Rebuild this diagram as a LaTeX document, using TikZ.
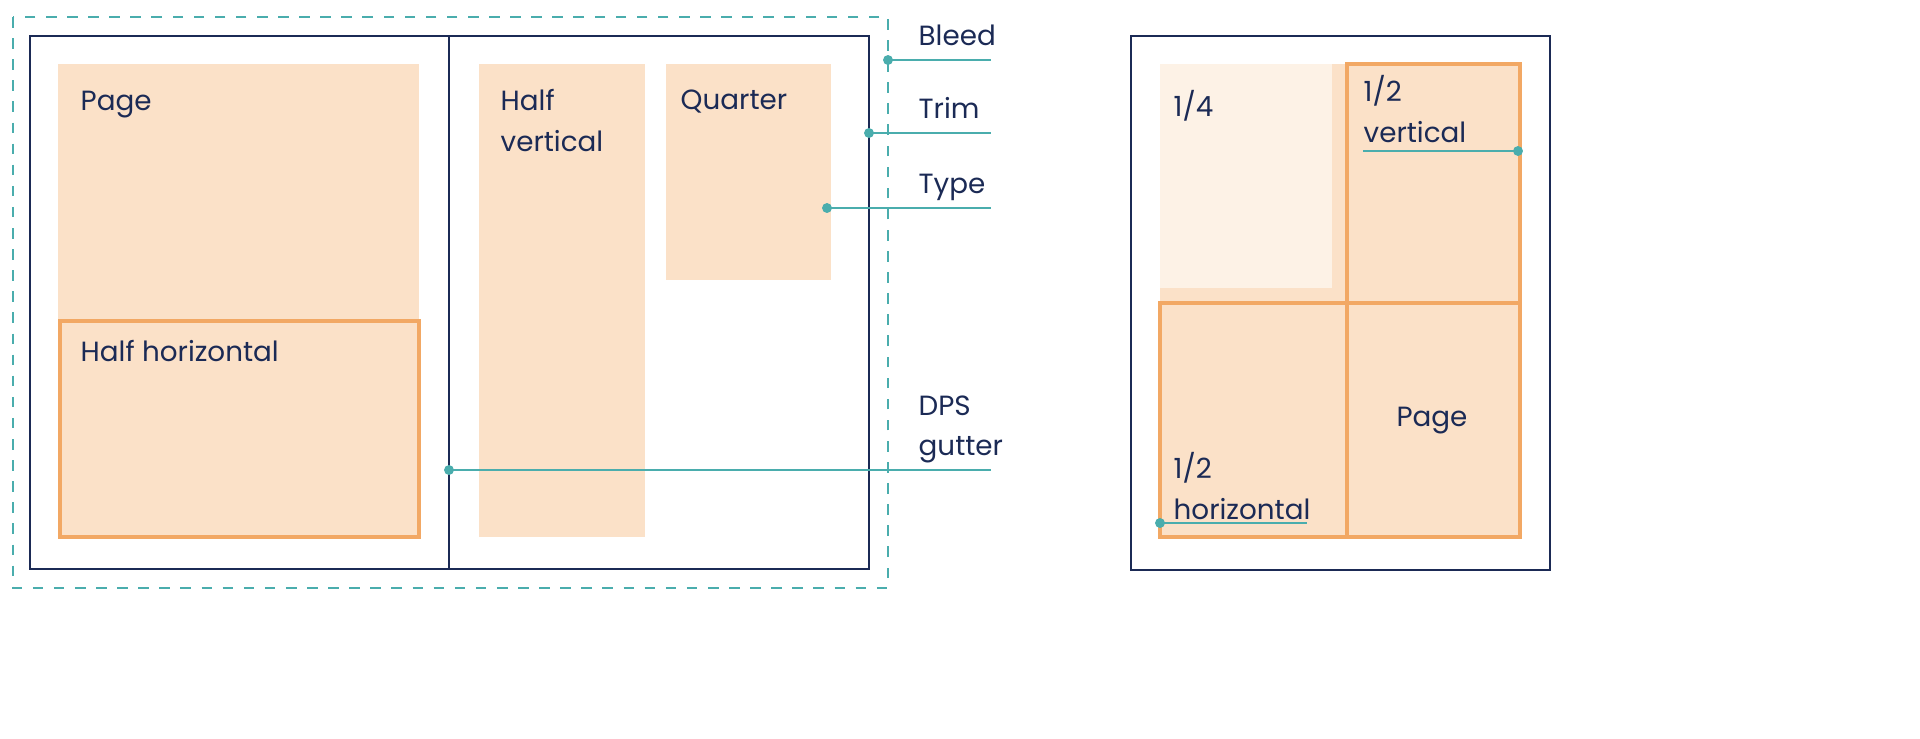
\documentclass[tikz,border=0pt]{standalone}
\usepackage{fontspec}
\setmainfont{Poppins}
\definecolor{peach}{HTML}{FBE1C8}
\definecolor{lightpeach}{HTML}{FDF2E6}
\definecolor{ad}{HTML}{F2A864}
\definecolor{navy}{HTML}{1B2A55}
\definecolor{teal}{HTML}{4AADAD}
\tikzstyle{lbl} = [anchor=north west,inner sep=0pt,text=navy,align=left,
                   font=\fontsize{7.9}{11.5}\selectfont]
\tikzstyle{lead} = [teal,line width=0.6pt]
\tikzstyle{pin} = [fill=teal,circle,inner sep=1pt]
\begin{document}
\begin{tikzpicture}[x={(0.01cm,0)},y={(0,-0.01cm)}]
  % spread
  \fill[peach] (58,64) rectangle (419,537);
  \draw[ad,line width=1pt] (60,321) rectangle (419,537);
  \fill[peach] (479,64) rectangle (645,537);
  \fill[peach] (666,64) rectangle (831,280);
  \draw[navy,line width=0.8pt] (30,36) rectangle (869,569);
  \draw[navy,line width=0.8pt] (449,36) -- (449,569);
  \draw[teal,dashed,line width=0.8pt] (13,17) rectangle (888,588);

  \node[lbl] (page)   at (80,90)  {Page};
  \node[lbl] (hhor)   at (80,340) {Half horizontal};
  \node[lbl] (hvert)  at (500,89) {Half\\vertical};
  \node[lbl] (quart)  at (680,89) {Quarter};

  \node[lbl] (bleed)  at (918,24)  {Bleed};
  \node[lbl] (trim)   at (918,97)  {Trim};
  \node[lbl] (type)   at (918,173) {Type};
  \node[lbl] (dps)    at (918,395) {DPS\\gutter};

  \coordinate (bleedend) at (991,60);
  \coordinate (trimend)  at (991,133);
  \coordinate (typeend)  at (991,208);
  \coordinate (dpsend)   at (991,470);
  \node[pin] (bleeddot) at (888,60) {};
  \node[pin] (trimdot)  at (869,133) {};
  \node[pin] (typedot)  at (827,208) {};
  \node[pin] (dpsdot)   at (449,470) {};
  \draw[lead] (bleeddot.center) -- (bleedend);
  \draw[lead] (trimdot.center) -- (trimend);
  \draw[lead] (typedot.center) -- (typeend);
  \draw[lead] (dpsdot.center) -- (dpsend);

  % single page
  \fill[peach] (1160,64) rectangle (1520,537);
  \fill[lightpeach] (1160,64) rectangle (1332,288);
  \draw[ad,line width=1pt] (1347,64) rectangle (1520,537);
  \draw[ad,line width=1pt] (1160,303) rectangle (1520,537);
  \draw[navy,line width=0.8pt] (1131,36) rectangle (1550,570);

  \node[lbl] (quarter) at (1173,90)  {1/4};
  \node[lbl] (halfv)   at (1363,75)  {1/2\\vertical};
  \node[lbl,anchor=center] (fullpage) at (1432,421) {Page};
  \node[lbl] (halfh)   at (1173,452) {1/2\\horizontal};

  \coordinate (halfvend) at (1363,151);
  \coordinate (halfhend) at (1307,523);
  \node[pin] (halfvdot) at (1518,151) {};
  \node[pin] (halfhdot) at (1160,523) {};
  \draw[lead] (halfvdot.center) -- (halfvend);
  \draw[lead] (halfhdot.center) -- (halfhend);

  \pgfresetboundingbox
  \useasboundingbox (0,0) rectangle (1920,739);
\end{tikzpicture}
\end{document}
